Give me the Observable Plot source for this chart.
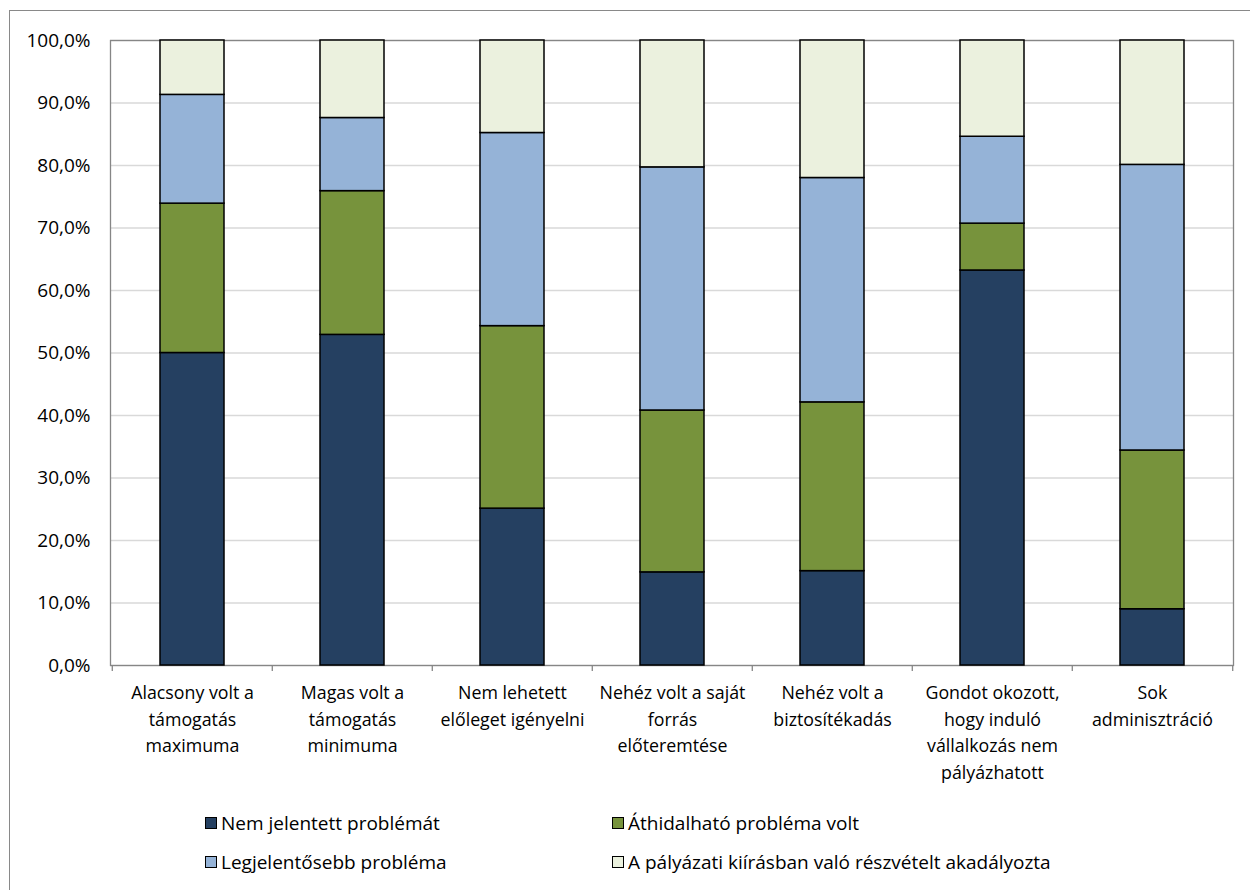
<!DOCTYPE html>
<html><head><meta charset="utf-8">
<script src="https://cdn.jsdelivr.net/npm/d3@7"></script>
<script src="https://cdn.jsdelivr.net/npm/@observablehq/plot@0.6"></script>
<style>
body{margin:0;background:#fff;overflow:hidden;width:1250px;height:890px;position:relative;font-family:"Open Sans", sans-serif;}
#frame{position:absolute;left:9px;top:10px;width:1300px;height:1000px;border:1.5px solid #898989;pointer-events:none;}
#chart{position:absolute;left:0;top:0;}
.item{position:absolute;height:22px;line-height:22px;display:flex;align-items:center;font-size:19px;color:#000;white-space:nowrap;}
.sw{width:10px;height:10px;border:1.3px solid #000;margin-right:4px;flex:none;}
</style></head><body>
<div id="chart"></div><div id="legend"></div><div id="frame"></div>
<script>
const categories = [
  "Alacsony volt a támogatás maximuma",
  "Magas volt a támogatás minimuma",
  "Nem lehetett előleget igényelni",
  "Nehéz volt a saját forrás előteremtése",
  "Nehéz volt a biztosítékadás",
  "Gondot okozott, hogy induló vállalkozás nem pályázhatott",
  "Sok adminisztráció"
];
const tickLabels = [
  "Alacsony volt a\ntámogatás\nmaximuma",
  "Magas volt a\ntámogatás\nminimuma",
  "Nem lehetett\nelőleget igényelni",
  "Nehéz volt a saját\nforrás\nelőteremtése",
  "Nehéz volt a\nbiztosítékadás",
  "Gondot okozott,\nhogy induló\nvállalkozás nem\npályázhatott",
  "Sok\nadminisztráció"
];
const series = [
  "Nem jelentett problémát",
  "Áthidalható probléma volt",
  "Legjelentősebb probléma",
  "A pályázati kiírásban való részvételt akadályozta"
];
const nemJelentett   = [50.0, 52.9, 25.1, 14.9, 15.1, 63.2, 9.0];
const athidalhato    = [23.9, 23.0, 29.2, 25.9, 27.0, 7.5, 25.4];
const legjelentosebb = [17.4, 11.7, 30.9, 38.9, 35.9, 13.9, 45.7];
const akadalyozta    = [8.7, 12.4, 14.8, 20.3, 22.0, 15.4, 19.9];
const yTicks = [0, 10, 20, 30, 40, 50, 60, 70, 80, 90, 100];
const colors = ["#254061", "#77933c", "#95b3d7", "#ebf1de"];

const seriesValues = [nemJelentett, athidalhato, legjelentosebb, akadalyozta];
const data = [];
seriesValues.forEach((vals, si) => vals.forEach((v, ci) => data.push({cat: categories[ci], series: series[si], value: v})));

const W = 1250, H = 800, ml = 110, mr = 17, mt = 40, mb = 135;
const step = (W - ml - mr) / categories.length;
const fmt = d => d.toFixed(1).replace(".", ",") + "%";

const chart = Plot.plot({
  width: W, height: H,
  marginLeft: ml, marginRight: mr, marginTop: mt, marginBottom: mb,
  style: {fontFamily: "'Open Sans', sans-serif", fontSize: "17.5px", color: "#000", background: "#fff", overflow: "visible"},
  x: {domain: categories, paddingInner: 0.6, paddingOuter: 0.3, axis: null, label: null},
  y: {domain: [0, 100], axis: null, label: null},
  color: {domain: series, range: colors},
  marks: [
    Plot.gridY(yTicks, {stroke: "#d9d9d9", strokeOpacity: 1, strokeWidth: 1.5}),
    Plot.frame({stroke: "#868686", strokeWidth: 1.3}),
    Plot.barY(data, {x: "cat", y: "value", fill: "series", z: "series", order: series, stroke: "#000", strokeWidth: 1.5}),
    Plot.axisY(yTicks, {tickSize: 0, tickPadding: 20, tickFormat: fmt, fontSize: 19, fill: "#000", label: null}),
    Plot.axisX(categories, {tickSize: 6, dx: -step / 2, text: null, stroke: "#868686", strokeWidth: 1.3, label: null}),
    Plot.axisX([categories[categories.length - 1]], {tickSize: 6, dx: step / 2, text: null, stroke: "#868686", strokeWidth: 1.3, label: null}),
    Plot.text(categories, {x: d => d, text: (d, i) => tickLabels[i], frameAnchor: "bottom", lineAnchor: "top", dy: 15, lineHeight: 1.49, fontSize: 17.8, fill: "#000"})
  ]
});
document.getElementById("chart").appendChild(chart);

const legendPos = [
  {left: 205, top: 812}, {left: 612, top: 812},
  {left: 205, top: 851}, {left: 612, top: 851}
];
const legend = document.getElementById("legend");
series.forEach((s, i) => {
  const it = document.createElement("div");
  it.className = "item";
  it.style.left = legendPos[i].left + "px";
  it.style.top = legendPos[i].top + "px";
  const sw = document.createElement("span");
  sw.className = "sw";
  sw.style.background = colors[i];
  it.appendChild(sw);
  it.appendChild(document.createTextNode(s));
  legend.appendChild(it);
});
</script>
</body></html>
